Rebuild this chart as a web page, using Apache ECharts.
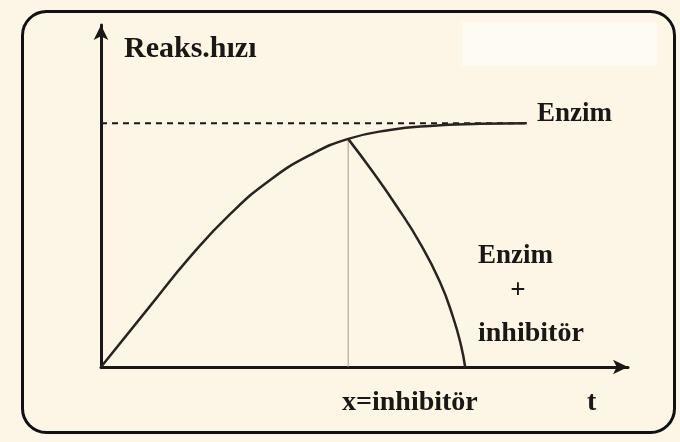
<!DOCTYPE html>
<html>
<head>
<meta charset="utf-8">
<script src="https://cdn.jsdelivr.net/npm/echarts@6/dist/echarts.min.js"></script>
<style>
html,body{margin:0;padding:0;background:#fdf6e6;}
#chart{width:680px;height:442px;}
</style>
</head>
<body>
<div id="chart"></div>
<script>
// Data (t axis 0..100, rate axis 0..100)
const enzimT    = [0, 9.3, 16.9, 24.5, 32.1, 39.7, 46.9, 54.8, 62.4, 71.9, 80.8];
const enzimRate = [0, 17.8, 32.2, 44.7, 54.7, 62.0, 66.7, 69.3, 70.5, 71.1, 71.3];
const inhibT    = [46.9, 51.6, 56.2, 60.5, 64.3, 66.8, 68.3, 69.1];
const inhibRate = [66.7, 57.0, 46.8, 36.3, 24.9, 14.6, 6.4, 0];
const maxRate = 71.3;
const dashedT = [0, 80.8];
const inhibitorT = 46.9;
const labels = {
  yName: 'Reaks.hızı',
  enzim: 'Enzim',
  plus: '+',
  inhibitor: 'inhibitör',
  xMark: 'x=inhibitör',
  xName: 't'
};

const chart = echarts.init(document.getElementById('chart'), null, {renderer: 'canvas'});
const font = '"Liberation Serif", "Times New Roman", serif';
const ink = '#1b1714';

const option = {
  backgroundColor: '#fdf6e6',
  animation: false,
  grid: {left: 101, right: 52, top: 25, bottom: 75},
  xAxis: {
    type: 'value', min: 0, max: 100,
    axisLine: {show: true, lineStyle: {color: ink, width: 3}, symbol: ['none', 'arrow'], symbolSize: [11, 15]},
    axisTick: {show: false}, axisLabel: {show: false}, splitLine: {show: false}
  },
  yAxis: {
    type: 'value', min: 0, max: 100,
    axisLine: {show: true, lineStyle: {color: ink, width: 3}, symbol: ['none', 'arrow'], symbolSize: [11, 15]},
    axisTick: {show: false}, axisLabel: {show: false}, splitLine: {show: false}
  },
  series: [
    {
      type: 'line', name: 'dashed', silent: true, symbol: 'none',
      data: dashedT.map(t => [t, maxRate]),
      lineStyle: {color: ink, width: 2, type: [6, 5]}
    },
    {
      type: 'line', name: 'vertical', silent: true, symbol: 'none',
      data: [[inhibitorT, 0], [inhibitorT, enzimRate[6]]],
      lineStyle: {color: '#a09a92', width: 1}
    },
    {
      type: 'line', name: 'Enzim', silent: true, symbol: 'none', smooth: 0.5,
      data: enzimT.map((t, i) => [t, enzimRate[i]]),
      lineStyle: {color: '#2a2420', width: 2.5}
    },
    {
      type: 'line', name: 'Enzim + inhibitör', silent: true, symbol: 'none', smooth: 0.5,
      data: inhibT.map((t, i) => [t, inhibRate[i]]),
      lineStyle: {color: '#2a2420', width: 2.5}
    }
  ],
  graphic: [
    {type: 'rect', z: -1, shape: {x: 462, y: 22, width: 195, height: 44}, style: {fill: '#ffffff', opacity: 0.55}},
    {type: 'rect', z: 10, shape: {x: 22.5, y: 11.5, width: 652, height: 421, r: 24}, style: {fill: 'none', stroke: '#111', lineWidth: 3}},
    {type: 'text', x: 124, y: 34, style: {text: labels.yName, font: 'bold 30px ' + font, fill: ink, verticalAlign: 'top'}},
    {type: 'text', x: 537, y: 100.6, style: {text: labels.enzim, font: 'bold 27px ' + font, fill: ink, verticalAlign: 'top'}},
    {type: 'text', x: 478, y: 242.6, style: {text: labels.enzim, font: 'bold 27px ' + font, fill: ink, verticalAlign: 'top'}},
    {type: 'text', x: 518, y: 277.6, style: {text: labels.plus, font: 'bold 27px ' + font, fill: ink, align: 'center', verticalAlign: 'top'}},
    {type: 'text', x: 478, y: 319.8, style: {text: labels.inhibitor, font: 'bold 28px ' + font, fill: ink, verticalAlign: 'top'}},
    {type: 'text', x: 342, y: 388.8, style: {text: labels.xMark, font: 'bold 28px ' + font, fill: ink, verticalAlign: 'top'}},
    {type: 'text', x: 587, y: 388.8, style: {text: labels.xName, font: 'bold 28px ' + font, fill: ink, verticalAlign: 'top'}}
  ]
};
chart.setOption(option);
</script>
</body>
</html>
